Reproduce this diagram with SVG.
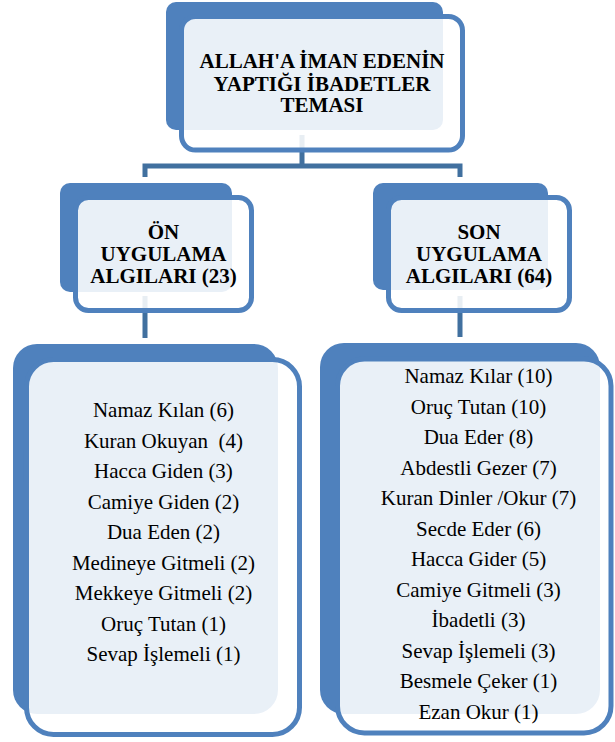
<svg xmlns="http://www.w3.org/2000/svg" width="615" height="742" viewBox="0 0 615 742">
<rect width="615" height="742" fill="#FFFFFF"/>
<g id="connectors" fill="none" stroke="#41709F" stroke-width="5">
<path d="M302,135 V166 M142.5,166 H462.5 M145,166 V177 M460,166 V177 M145,296 V338 M460,296 V337"/>
</g>
<g id="node-top">
<rect x="166" y="2" width="277" height="128" rx="10" fill="#4F81BD"/>
<rect x="181.5" y="16.5" width="281" height="133.5" rx="14" fill="#FFFFFF" fill-opacity="0.88" stroke="#4F81BD" stroke-width="5"/>
<text x="322" y="68" font-family="Liberation Serif" font-size="21" font-weight="bold" text-anchor="middle" style="font-family:'Liberation Serif',serif">ALLAH'A İMAN EDENİN</text>
<text x="322" y="90.5" font-family="Liberation Serif" font-size="21" font-weight="bold" text-anchor="middle" style="font-family:'Liberation Serif',serif">YAPTIĞI İBADETLER</text>
<text x="322" y="112" font-family="Liberation Serif" font-size="21" font-weight="bold" text-anchor="middle" style="font-family:'Liberation Serif',serif">TEMASI</text>
</g>
<g id="node-on">
<rect x="60" y="183" width="172" height="109" rx="10" fill="#4F81BD"/>
<rect x="75.5" y="197.5" width="176" height="113" rx="13" fill="#FFFFFF" fill-opacity="0.88" stroke="#4F81BD" stroke-width="5"/>
<text x="163.5" y="238.5" font-family="Liberation Serif" font-size="21" font-weight="bold" text-anchor="middle" style="font-family:'Liberation Serif',serif">ÖN</text>
<text x="163.5" y="261" font-family="Liberation Serif" font-size="21" font-weight="bold" text-anchor="middle" style="font-family:'Liberation Serif',serif">UYGULAMA</text>
<text x="163.5" y="282.5" font-family="Liberation Serif" font-size="21" font-weight="bold" text-anchor="middle" style="font-family:'Liberation Serif',serif">ALGILARI (23)</text>
</g>
<g id="node-son">
<rect x="373" y="183" width="175" height="107" rx="10" fill="#4F81BD"/>
<rect x="388.5" y="197.5" width="181" height="113" rx="13" fill="#FFFFFF" fill-opacity="0.88" stroke="#4F81BD" stroke-width="5"/>
<text x="479" y="238.5" font-family="Liberation Serif" font-size="21" font-weight="bold" text-anchor="middle" style="font-family:'Liberation Serif',serif">SON</text>
<text x="479" y="261" font-family="Liberation Serif" font-size="21" font-weight="bold" text-anchor="middle" style="font-family:'Liberation Serif',serif">UYGULAMA</text>
<text x="479" y="282.5" font-family="Liberation Serif" font-size="21" font-weight="bold" text-anchor="middle" style="font-family:'Liberation Serif',serif">ALGILARI (64)</text>
</g>
<g id="list-on">
<rect x="13" y="344" width="265" height="370" rx="24" fill="#4F81BD"/>
<rect x="26.5" y="359.5" width="273" height="375" rx="27" fill="#FFFFFF" fill-opacity="0.88" stroke="#4F81BD" stroke-width="5"/>
<text x="163.5" y="417" font-family="Liberation Serif" font-size="21" text-anchor="middle" style="font-family:'Liberation Serif',serif">Namaz Kılan (6)</text>
<text x="163.5" y="447.5" font-family="Liberation Serif" font-size="21" text-anchor="middle" style="font-family:'Liberation Serif',serif">Kuran Okuyan&#160; (4)</text>
<text x="163.5" y="478" font-family="Liberation Serif" font-size="21" text-anchor="middle" style="font-family:'Liberation Serif',serif">Hacca Giden (3)</text>
<text x="163.5" y="508.5" font-family="Liberation Serif" font-size="21" text-anchor="middle" style="font-family:'Liberation Serif',serif">Camiye Giden (2)</text>
<text x="163.5" y="539" font-family="Liberation Serif" font-size="21" text-anchor="middle" style="font-family:'Liberation Serif',serif">Dua Eden (2)</text>
<text x="163.5" y="569.5" font-family="Liberation Serif" font-size="21" text-anchor="middle" style="font-family:'Liberation Serif',serif">Medineye Gitmeli (2)</text>
<text x="163.5" y="600" font-family="Liberation Serif" font-size="21" text-anchor="middle" style="font-family:'Liberation Serif',serif">Mekkeye Gitmeli (2)</text>
<text x="163.5" y="630.5" font-family="Liberation Serif" font-size="21" text-anchor="middle" style="font-family:'Liberation Serif',serif">Oruç Tutan (1)</text>
<text x="163.5" y="661" font-family="Liberation Serif" font-size="21" text-anchor="middle" style="font-family:'Liberation Serif',serif">Sevap İşlemeli (1)</text>
</g>
<g id="list-son">
<rect x="320" y="343" width="280" height="371" rx="24" fill="#4F81BD"/>
<rect x="337.5" y="359" width="273.5" height="374" rx="27" fill="#FFFFFF" fill-opacity="0.88" stroke="#4F81BD" stroke-width="5"/>
<text x="478.5" y="383" font-family="Liberation Serif" font-size="21" text-anchor="middle" style="font-family:'Liberation Serif',serif">Namaz Kılar (10)</text>
<text x="478.5" y="413.5" font-family="Liberation Serif" font-size="21" text-anchor="middle" style="font-family:'Liberation Serif',serif">Oruç Tutan (10)</text>
<text x="478.5" y="444" font-family="Liberation Serif" font-size="21" text-anchor="middle" style="font-family:'Liberation Serif',serif">Dua Eder (8)</text>
<text x="478.5" y="474.5" font-family="Liberation Serif" font-size="21" text-anchor="middle" style="font-family:'Liberation Serif',serif">Abdestli Gezer (7)</text>
<text x="478.5" y="505" font-family="Liberation Serif" font-size="21" text-anchor="middle" style="font-family:'Liberation Serif',serif">Kuran Dinler /Okur (7)</text>
<text x="478.5" y="535.5" font-family="Liberation Serif" font-size="21" text-anchor="middle" style="font-family:'Liberation Serif',serif">Secde Eder (6)</text>
<text x="478.5" y="566" font-family="Liberation Serif" font-size="21" text-anchor="middle" style="font-family:'Liberation Serif',serif">Hacca Gider (5)</text>
<text x="478.5" y="596.5" font-family="Liberation Serif" font-size="21" text-anchor="middle" style="font-family:'Liberation Serif',serif">Camiye Gitmeli (3)</text>
<text x="478.5" y="627" font-family="Liberation Serif" font-size="21" text-anchor="middle" style="font-family:'Liberation Serif',serif">İbadetli (3)</text>
<text x="478.5" y="657.5" font-family="Liberation Serif" font-size="21" text-anchor="middle" style="font-family:'Liberation Serif',serif">Sevap İşlemeli (3)</text>
<text x="478.5" y="688" font-family="Liberation Serif" font-size="21" text-anchor="middle" style="font-family:'Liberation Serif',serif">Besmele Çeker (1)</text>
<text x="478.5" y="718.5" font-family="Liberation Serif" font-size="21" text-anchor="middle" style="font-family:'Liberation Serif',serif">Ezan Okur (1)</text>
</g>
</svg>
